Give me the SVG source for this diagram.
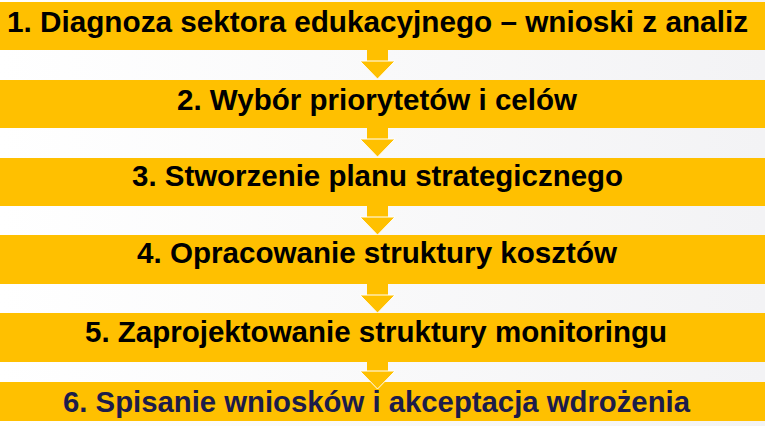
<svg xmlns="http://www.w3.org/2000/svg" width="765" height="426" viewBox="0 0 765 426">
  <defs>
    <linearGradient id="bg" x1="0" y1="0" x2="1" y2="0">
      <stop offset="0" stop-color="#ffffff"/>
      <stop offset="1" stop-color="#f3f3f5"/>
    </linearGradient>
    <style>
      .bar { fill: #FFC000; }
      .lbl { font-family: "Liberation Sans", Arial, sans-serif; font-weight: bold; font-size: 29.6px; fill: #000000; text-anchor: middle; }
      .lbl6 { fill: #1c1c4a; }
      .shaft { fill: #FFC000; }
      .head { fill: #FFC000; stroke: #ffffff; stroke-width: 1; stroke-linejoin: miter; }
    </style>
  </defs>
  <rect x="0" y="0" width="765" height="426" fill="url(#bg)"/>

  <g id="node1">
    <rect class="bar" x="0" y="2" width="765" height="48"/>
    <text class="lbl" x="377.5" y="32" textLength="741" lengthAdjust="spacingAndGlyphs">1. Diagnoza sektora edukacyjnego – wnioski z analiz</text>
  </g>
  <g id="node2">
    <rect class="bar" x="0" y="80" width="765" height="48"/>
    <text class="lbl" x="377" y="110" textLength="400" lengthAdjust="spacingAndGlyphs">2. Wybór priorytetów i celów</text>
  </g>
  <g id="node3">
    <rect class="bar" x="0" y="158" width="765" height="48"/>
    <text class="lbl" x="377.5" y="186" textLength="491" lengthAdjust="spacingAndGlyphs">3. Stworzenie planu strategicznego</text>
  </g>
  <g id="node4">
    <rect class="bar" x="0" y="235" width="765" height="49"/>
    <text class="lbl" x="377" y="263" textLength="480" lengthAdjust="spacingAndGlyphs">4. Opracowanie struktury kosztów</text>
  </g>
  <g id="node5">
    <rect class="bar" x="0" y="313" width="765" height="49"/>
    <text class="lbl" x="376" y="342" textLength="582" lengthAdjust="spacingAndGlyphs">5. Zaprojektowanie struktury monitoringu</text>
  </g>
  <g id="node6">
    <rect class="bar" x="0" y="382" width="765" height="39"/>
    <text class="lbl lbl6" x="376.5" y="412" textLength="627" lengthAdjust="spacingAndGlyphs">6. Spisanie wniosków i akceptacja wdrożenia</text>
  </g>

  <g id="connectors">
    <rect class="shaft" x="367" y="50" width="21" height="12"/>
    <polygon class="head" points="360,61 395,61 377.5,79"/>
    <rect class="shaft" x="367" y="128" width="21" height="12"/>
    <polygon class="head" points="360,139 395,139 377.5,157"/>
    <rect class="shaft" x="367" y="206" width="21" height="11"/>
    <polygon class="head" points="360,217 395,217 377.5,235"/>
    <rect class="shaft" x="367" y="284" width="21" height="11"/>
    <polygon class="head" points="360,295 395,295 377.5,313"/>
    <rect class="shaft" x="367" y="362" width="21" height="10"/>
    <polygon class="head" points="360,371 395,371 377.5,389"/>
  </g>
</svg>
